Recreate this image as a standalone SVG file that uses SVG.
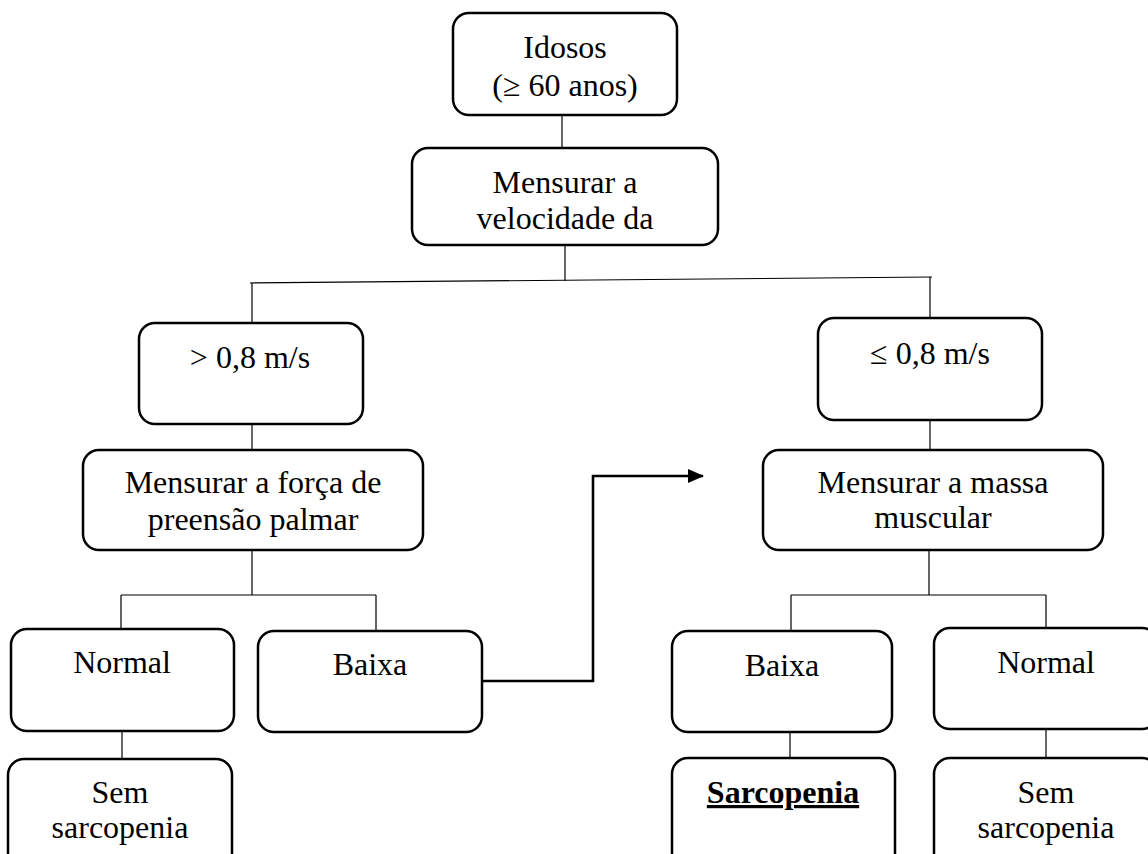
<svg xmlns="http://www.w3.org/2000/svg" width="1148" height="854" viewBox="0 0 1148 854">
<defs>
<style>
.box{fill:#fff;stroke:#000;stroke-width:2.5}
.t{font-family:"Liberation Serif","Times New Roman",serif;font-size:32px;fill:#000;text-anchor:middle}
.b{font-weight:bold;text-decoration:underline}
.c{fill:none;stroke:#000;stroke-width:1.2}
.a{fill:none;stroke:#000;stroke-width:2.6}
</style>
<marker id="ah" markerWidth="10" markerHeight="10" refX="9" refY="5" orient="auto" markerUnits="userSpaceOnUse" viewBox="0 0 10 10">
<path d="M0,0 L10,5 L0,10 Z" fill="#000"/>
</marker>
<marker id="ah2" markerWidth="16" markerHeight="16" refX="15" refY="7" orient="auto" markerUnits="userSpaceOnUse" viewBox="0 0 16 14">
<path d="M0,0 L16,7 L0,14 Z" fill="#000"/>
</marker>
</defs>
<rect width="1148" height="854" fill="#fff"/>
<g id="connectors">
<path class="c" d="M562,115 V148"/>
<path class="c" d="M565,245 V281"/>
<path class="c" d="M250,283 L932,277"/>
<path class="c" d="M252,283 V323"/>
<path class="c" d="M930,277 V318"/>
<path class="c" d="M252,424 V450"/>
<path class="c" d="M930,420 V450"/>
<path class="c" d="M252,550 V595 M121,595 H376 M121,595 V629 M376,595 V631"/>
<path class="c" d="M929,550 V595 M791,595 H1046 M791,595 V631 M1046,595 V628"/>
<path class="c" d="M122,731 V759"/>
<path class="c" d="M790,732 V758"/>
<path class="c" d="M1046,729 V758"/>
<path class="a" d="M482,681 H593 V476 H703" marker-end="url(#ah2)"/>
</g>
<g id="idosos">
<rect class="box" x="453" y="13" width="224" height="102" rx="16"/>
<text class="t" x="565" y="58">Idosos</text>
<text class="t" x="565" y="96">(≥ 60 anos)</text>
</g>
<g id="velocidade">
<rect class="box" x="412" y="148" width="306" height="97" rx="16"/>
<text class="t" x="565" y="193">Mensurar a</text>
<text class="t" x="565" y="229">velocidade da</text>
</g>
<g id="maior">
<rect class="box" x="139" y="323" width="224" height="101" rx="16"/>
<text class="t" x="250" y="368">&gt; 0,8 m/s</text>
</g>
<g id="menor">
<rect class="box" x="818" y="318" width="224" height="102" rx="16"/>
<text class="t" x="930" y="364">≤ 0,8 m/s</text>
</g>
<g id="forca">
<rect class="box" x="83" y="450" width="340" height="100" rx="16"/>
<text class="t" x="253" y="493">Mensurar a força de</text>
<text class="t" x="253" y="530">preensão palmar</text>
</g>
<g id="massa">
<rect class="box" x="763" y="450" width="340" height="100" rx="16"/>
<text class="t" x="933" y="493">Mensurar a massa</text>
<text class="t" x="933" y="528">muscular</text>
</g>
<g id="normal-esq">
<rect class="box" x="11" y="629" width="223" height="102" rx="16"/>
<text class="t" x="122" y="673">Normal</text>
</g>
<g id="baixa-esq">
<rect class="box" x="258" y="631" width="224" height="101" rx="16"/>
<text class="t" x="370" y="675">Baixa</text>
</g>
<g id="baixa-dir">
<rect class="box" x="672" y="631" width="220" height="101" rx="16"/>
<text class="t" x="782" y="676">Baixa</text>
</g>
<g id="normal-dir">
<rect class="box" x="934" y="628" width="224" height="101" rx="16"/>
<text class="t" x="1046" y="673">Normal</text>
</g>
<g id="sem-esq">
<rect class="box" x="8" y="759" width="224" height="130" rx="16"/>
<text class="t" x="120" y="803">Sem</text>
<text class="t" x="120" y="838">sarcopenia</text>
</g>
<g id="sarcopenia">
<rect class="box" x="672" y="758" width="223" height="130" rx="16"/>
<text class="t b" x="783" y="803">Sarcopenia</text>
</g>
<g id="sem-dir">
<rect class="box" x="934" y="758" width="224" height="130" rx="16"/>
<text class="t" x="1046" y="803">Sem</text>
<text class="t" x="1046" y="838">sarcopenia</text>
</g>
</svg>
